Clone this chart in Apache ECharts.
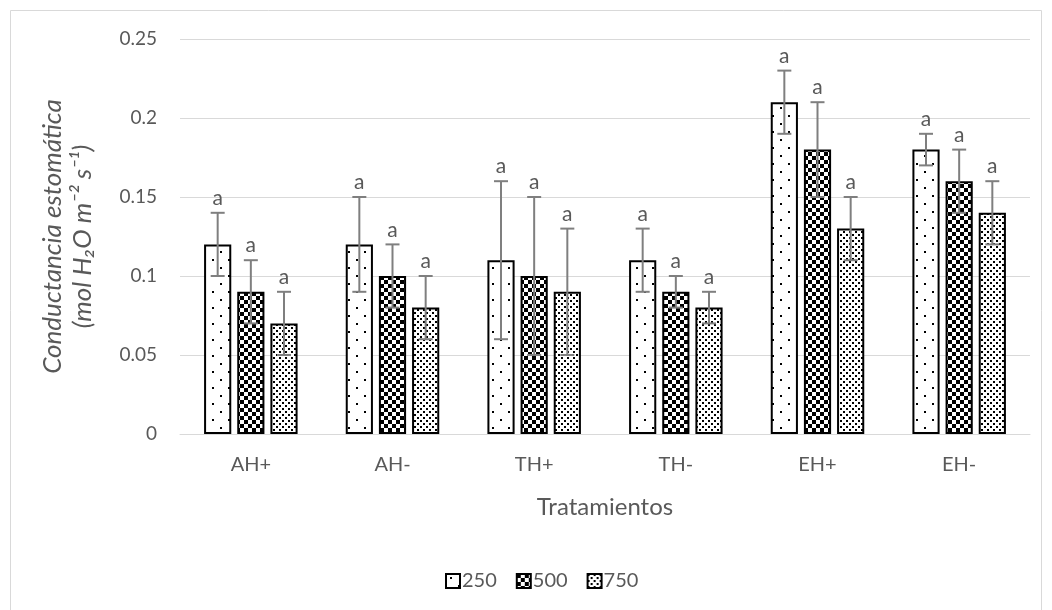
<!DOCTYPE html>
<html>
<head>
<meta charset="utf-8">
<script src="https://cdn.jsdelivr.net/npm/echarts@6/dist/echarts.min.js"></script>
<style>
  html, body { margin: 0; padding: 0; background: #fff; }
  #chart { width: 1052px; height: 610px; }
</style>
</head>
<body>
<div id="chart"></div>
<script>
// Treatments and nitrogen doses
const categories = ['AH+', 'AH-', 'TH+', 'TH-', 'EH+', 'EH-'];
const seriesNames = ['250', '500', '750'];

// Mean stomatal conductance (mol H2O m-2 s-1)
const values250 = [0.12, 0.12, 0.11, 0.11, 0.21, 0.18];
const values500 = [0.09, 0.10, 0.10, 0.09, 0.18, 0.16];
const values750 = [0.07, 0.08, 0.09, 0.08, 0.13, 0.14];

// Error bar half-widths
const err250 = [0.02, 0.03, 0.05, 0.02, 0.02, 0.01];
const err500 = [0.02, 0.02, 0.05, 0.01, 0.03, 0.02];
const err750 = [0.02, 0.02, 0.04, 0.01, 0.02, 0.02];

// Significance letters
const letters250 = ['a', 'a', 'a', 'a', 'a', 'a'];
const letters500 = ['a', 'a', 'a', 'a', 'a', 'a'];
const letters750 = ['a', 'a', 'a', 'a', 'a', 'a'];

const yTicks = { min: 0, max: 0.25, interval: 0.05 };

const FONT = 'Lato, "Open Sans", sans-serif';
const TEXT = '#595959';
const GRID = '#d9d9d9';

// Fill patterns
function makeTile(size, draw) {
  const c = document.createElement('canvas');
  c.width = size; c.height = size;
  const g = c.getContext('2d');
  g.fillStyle = '#fff';
  g.fillRect(0, 0, size, size);
  g.fillStyle = '#000';
  draw(g);
  return c;
}
const sparseDots = makeTile(16, g => {
  g.fillRect(4, 3, 2, 2);
  g.fillRect(12, 11, 2, 2);
});
const checker = makeTile(8, g => {
  g.fillRect(0, 0, 4, 4);
  g.fillRect(4, 4, 4, 4);
});
const denseDots = makeTile(6, g => {
  g.fillRect(0, 0, 2, 2);
  g.fillRect(3, 3, 2, 2);
});
const patterns = [sparseDots, checker, denseDots];

const allValues = [values250, values500, values750];
const allErrs = [err250, err500, err750];
const allLetters = [letters250, letters500, letters750];

const CAT_GAP = 0.34;
const BAR_GAP = 0.22;

const barSeries = seriesNames.map((name, i) => ({
  name: name,
  type: 'bar',
  data: allValues[i],
  barCategoryGap: (CAT_GAP * 100) + '%',
  barGap: (BAR_GAP * 100) + '%',
  itemStyle: {
    color: { image: patterns[i], repeat: 'repeat' },
    borderColor: '#000',
    borderWidth: 2
  },
  z: 2
}));

const errorSeries = seriesNames.map((name, i) => ({
  type: 'custom',
  name: name + '-err',
  data: categories.map((c, k) => [k, allValues[i][k] - allErrs[i][k], allValues[i][k] + allErrs[i][k]]),
  encode: { x: 0, y: [1, 2] },
  z: 5,
  silent: true,
  renderItem: function (params, api) {
    const k = api.value(0);
    const catW = api.size([1, 0])[0];
    const bw = catW * (1 - CAT_GAP) / (3 + 2 * BAR_GAP);
    const off = (i - 1) * bw * (1 + BAR_GAP);
    const lo = api.coord([k, api.value(1)]);
    const hi = api.coord([k, api.value(2)]);
    const x = lo[0] + off;
    const cap = 7;
    const st = { stroke: '#7f7f7f', lineWidth: 2 };
    return {
      type: 'group',
      children: [
        { type: 'line', shape: { x1: x, y1: lo[1], x2: x, y2: hi[1] }, style: st },
        { type: 'line', shape: { x1: x - cap, y1: hi[1], x2: x + cap, y2: hi[1] }, style: st },
        { type: 'line', shape: { x1: x - cap, y1: lo[1], x2: x + cap, y2: lo[1] }, style: st },
        {
          type: 'text',
          style: {
            text: allLetters[i][k], x: x, y: hi[1] - 4,
            align: 'center', verticalAlign: 'bottom',
            fill: TEXT, fontSize: 21, fontFamily: FONT
          }
        }
      ]
    };
  }
}));

const chart = echarts.init(document.getElementById('chart'), null, { renderer: 'canvas' });
chart.setOption({
  backgroundColor: '#fff',
  animation: false,
  graphic: [{
    type: 'rect',
    shape: { x: 10.5, y: 10.5, width: 1031, height: 620 },
    style: { fill: 'none', stroke: GRID, lineWidth: 1 },
    silent: true,
    z: -1
  }],
  grid: { left: 180, right: 22, top: 39, bottom: 176 },
  legend: {
    data: seriesNames,
    top: 566,
    left: 440,
    itemWidth: 14,
    itemHeight: 14,
    itemGap: 19,
    icon: 'rect',
    textStyle: { fontFamily: FONT, fontSize: 20, color: TEXT, padding: [0, 0, 0, -3] }
  },
  xAxis: {
    type: 'category',
    data: categories,
    axisLine: { lineStyle: { color: GRID, width: 1 } },
    axisTick: { show: false },
    axisLabel: { fontFamily: FONT, fontSize: 20, color: TEXT, margin: 21 },
    name: 'Tratamientos',
    nameLocation: 'middle',
    nameGap: 61,
    nameTextStyle: { fontFamily: FONT, fontSize: 24, color: TEXT }
  },
  yAxis: {
    type: 'value',
    min: yTicks.min,
    max: yTicks.max,
    interval: yTicks.interval,
    axisLine: { show: false },
    axisTick: { show: false },
    splitLine: { lineStyle: { color: GRID, width: 1 } },
    axisLabel: { fontFamily: FONT, fontSize: 19, color: TEXT, margin: 23 },
    name: 'Conductancia estomática\n(mol H₂O m⁻² s⁻¹)',
    nameLocation: 'middle',
    nameGap: 82,
    nameTextStyle: {
      fontFamily: FONT, fontSize: 26, fontStyle: 'italic', color: TEXT, lineHeight: 30
    }
  },
  series: barSeries.concat(errorSeries)
});
</script>
</body>
</html>
